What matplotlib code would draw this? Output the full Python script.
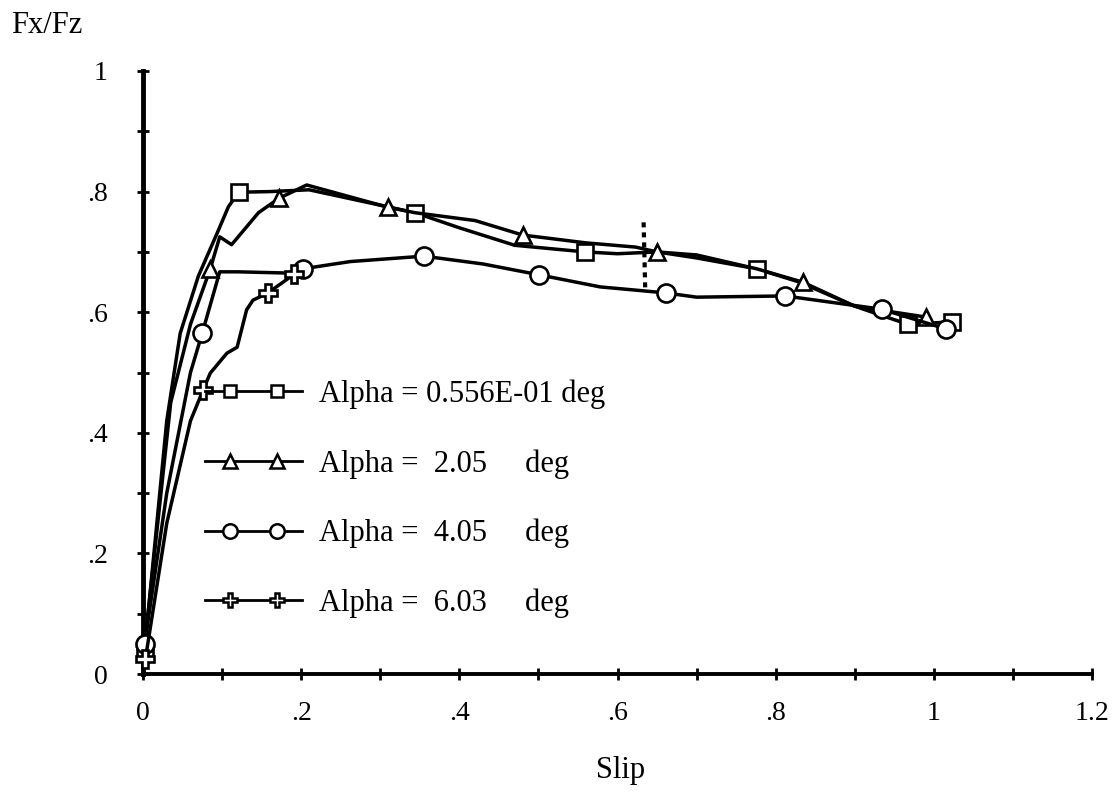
import numpy as np
import matplotlib
matplotlib.use("Agg")
import matplotlib.pyplot as plt
from matplotlib.lines import Line2D
from matplotlib.legend_handler import HandlerLine2D
from matplotlib.ticker import MultipleLocator, FuncFormatter


# curves (slip, Fx/Fz); *_marks are indices that carry a symbol
sq_slip = [0.002, 0.03, 0.047, 0.07, 0.095, 0.108, 0.121, 0.16, 0.21, 0.344,
           0.40, 0.47, 0.559, 0.60, 0.65, 0.70, 0.776, 0.83, 0.90, 0.967, 1.023]
sq_fxfz = [0.04, 0.42, 0.565, 0.66, 0.735, 0.775, 0.799, 0.80, 0.803, 0.765,
           0.74, 0.711, 0.700, 0.697, 0.700, 0.69, 0.672, 0.65, 0.61, 0.580, 0.584]
sq_marks = [0, 6, 9, 12, 16, 19, 20]

tri_slip = [0.003, 0.035, 0.06, 0.085, 0.097, 0.112, 0.146, 0.172, 0.207, 0.31,
            0.344, 0.42, 0.48, 0.56, 0.623, 0.65, 0.70, 0.776, 0.834, 0.90, 0.99]
tri_fxfz = [0.06, 0.45, 0.58, 0.672, 0.725, 0.712, 0.765, 0.789, 0.811, 0.774,
            0.765, 0.752, 0.728, 0.715, 0.708, 0.700, 0.695, 0.672, 0.650, 0.61, 0.592]
tri_marks = [0, 3, 7, 9, 12, 15, 18, 20]

cir_slip = [0.002, 0.03, 0.06, 0.075, 0.097, 0.12, 0.182, 0.202, 0.262, 0.355,
            0.43, 0.501, 0.578, 0.62, 0.661, 0.70, 0.812, 0.934, 1.016]
cir_fxfz = [0.05, 0.30, 0.50, 0.566, 0.667, 0.667, 0.665, 0.672, 0.684, 0.693,
            0.68, 0.662, 0.642, 0.637, 0.632, 0.625, 0.627, 0.605, 0.572]
cir_marks = [0, 3, 7, 9, 11, 14, 16, 17, 18]

plus_slip = [0.003, 0.03, 0.06, 0.076, 0.085, 0.106, 0.119, 0.131, 0.139, 0.158, 0.191]
plus_fxfz = [0.025, 0.25, 0.42, 0.471, 0.499, 0.532, 0.542, 0.604, 0.62, 0.632, 0.663]
plus_marks = [0, 3, 9, 10]

# dotted vertical trace near slip 0.63
trace_slip = [0.633, 0.635]
trace_fxfz = [0.749, 0.64]

labels = ["Alpha = 0.556E-01 deg",
          "Alpha =  2.05     deg",
          "Alpha =  4.05     deg",
          "Alpha =  6.03     deg"]

plt.rcParams["font.family"] = ["Liberation Serif", "DejaVu Serif"]


class FullLineHandler(HandlerLine2D):
    # line runs the whole handle width, the two symbols sit inside it
    def create_artists(self, legend, orig_handle, xdescent, ydescent,
                       width, height, fontsize, trans):
        pad = self._marker_pad * fontsize
        x0 = -xdescent
        x1 = -xdescent + width
        xdata = np.array([x0, x0 + pad, x1 - pad, x1])
        ydata = np.full_like(xdata, (height - ydescent) / 2)
        legline = Line2D(xdata, ydata)
        self.update_prop(legline, orig_handle, legend)
        legline.set_markevery([1, 2])
        legline.set_transform(trans)
        return [legline]


fig = plt.figure(figsize=(11.2, 7.94), dpi=100)
ax = fig.add_axes([0.1277, 0.151, 0.975 - 0.1277, 0.9106 - 0.151])

series = [
    (sq_slip, sq_fxfz, sq_marks, "s", 11),
    (tri_slip, tri_fxfz, tri_marks, "^", 12),
    (cir_slip, cir_fxfz, cir_marks, "o", 13),
    (plus_slip, plus_fxfz, plus_marks, "P", 13),
]
for xs, ys, marks, mk, ms in series:
    ax.plot(xs, ys, color="black", lw=2.5, marker=mk, markevery=marks,
            ms=ms, mfc="white", mec="black", mew=1.9, clip_on=False, zorder=3)

ax.plot(trace_slip, trace_fxfz, color="black", lw=3, ls=(0, (1.2, 1.2)), zorder=2)

ax.set_xlim(0, 1.2)
ax.set_ylim(0, 1)

for side in ["top", "right"]:
    ax.spines[side].set_visible(False)
ax.spines["left"].set_linewidth(3.5)
ax.spines["bottom"].set_linewidth(2.8)

ax.xaxis.set_major_locator(MultipleLocator(0.2))
ax.xaxis.set_minor_locator(MultipleLocator(0.1))
ax.yaxis.set_major_locator(MultipleLocator(0.2))
ax.yaxis.set_minor_locator(MultipleLocator(0.1))


def short(v, pos):
    s = f"{v:.1f}".rstrip("0").rstrip(".")
    if s.startswith("0."):
        s = s[1:]
    return s


ax.xaxis.set_major_formatter(FuncFormatter(short))
ax.yaxis.set_major_formatter(FuncFormatter(short))
ax.tick_params(which="both", direction="inout", length=9, width=2, labelsize=20)
ax.tick_params(axis="y", pad=21)
ax.tick_params(axis="x", pad=15)

fig.text(0.010, 0.958, "Fx/Fz", fontsize=22, va="baseline", ha="left")
fig.text(0.5545, 0.030, "Slip", fontsize=22, va="center", ha="center")

handles = [Line2D([], [], color="black", lw=2, marker=mk, ms=ms * 0.8,
                  mfc="white", mec="black", mew=1.8)
           for _, _, _, mk, ms in series]
ax.legend(handles, labels, loc="upper left", bbox_to_anchor=(0.065, 0.489),
          frameon=False, numpoints=2, fontsize=22, handlelength=3.2,
          handletextpad=0.55, labelspacing=1.32, borderaxespad=0, borderpad=0,
          handler_map={Line2D: FullLineHandler(marker_pad=0.82)})

fig.savefig("out.png", dpi=100, facecolor="white")
